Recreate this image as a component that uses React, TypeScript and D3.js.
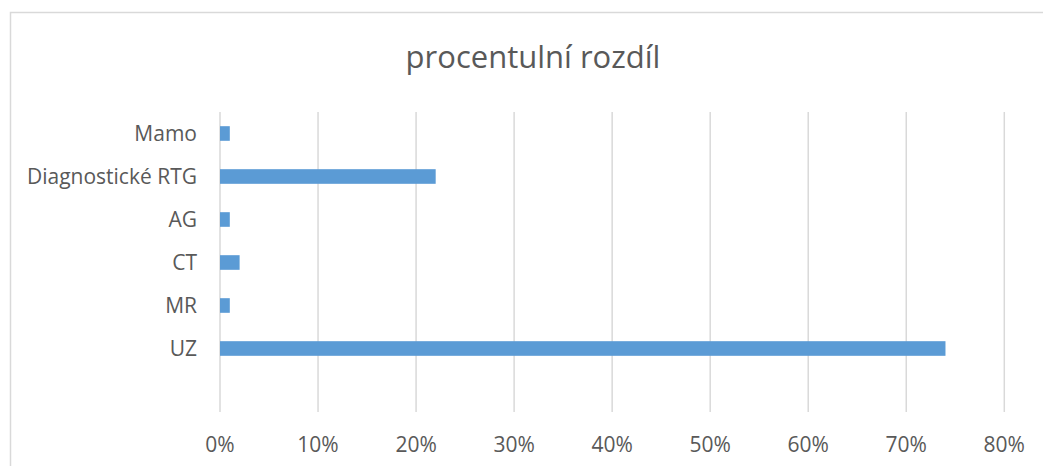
import React from "react";
import * as d3 from "d3";

const title = "procentulní rozdíl";
const categories = ["Mamo", "Diagnostické RTG", "AG", "CT", "MR", "UZ", ""];
const values: (number | null)[] = [0.01, 0.22, 0.01, 0.02, 0.01, 0.74, null];
const xTicks = [0, 0.1, 0.2, 0.3, 0.4, 0.5, 0.6, 0.7, 0.8];

const W = 1043;
const H = 466;
const FONT = "'Open Sans', sans-serif";

export default function App() {
  const x = d3.scaleLinear().domain([0, 0.8]).range([220, 1004.3]);
  const y = d3.scaleBand<string>().domain(categories.map((c, i) => i + "")).range([112, 413]).paddingInner(0.66).paddingOuter(0.33);
  const fmt = d3.format(".0%");
  const step = y.step();
  return (
    <svg width={W} height={H} style={{ position: "absolute", left: 0, top: 0, background: "#fff" }}>
      <rect x={0} y={0} width={W} height={H} fill="#fff" />
      <path d={`M10.5,${H} V12.5 H${W}`} fill="none" stroke="#d9d9d9" strokeWidth={1.5} />
      <text x={533} y={68} textAnchor="middle" fontFamily={FONT} fontSize={31} fill="#595959">{title}</text>
      {xTicks.map((t) => (
        <g key={t}>
          <line x1={x(t)} x2={x(t)} y1={112} y2={412} stroke="#d9d9d9" strokeWidth={1.5} />
          <text x={x(t)} y={452} textAnchor="middle" fontFamily={FONT} fontSize={21} fill="#595959">{fmt(t)}</text>
        </g>
      ))}
      {categories.map((c, i) => {
        const yc = 112 + step * (i + 0.5);
        const v = values[i];
        const bh = y.bandwidth();
        return (
          <g key={i}>
            {c && (
              <text x={197} y={yc} dy="0.35em" textAnchor="end" fontFamily={FONT} fontSize={21} fill="#595959">{c}</text>
            )}
            {v != null && (
              <rect x={x(0)} y={yc - bh / 2} width={x(v) - x(0)} height={bh} fill="#5b9bd5" />
            )}
          </g>
        );
      })}
    </svg>
  );
}
